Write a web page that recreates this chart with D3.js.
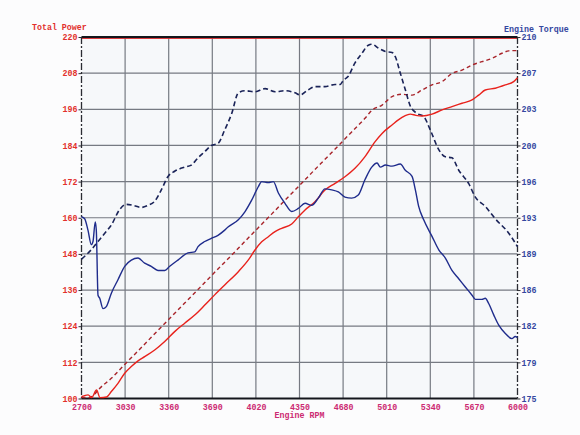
<!DOCTYPE html>
<html>
<head>
<meta charset="utf-8">
<script src="https://cdn.jsdelivr.net/npm/d3@7"></script>
<style>
  body { margin: 0; background: #fcfcfd; }
  text { font-family: "Liberation Mono", "DejaVu Sans Mono", monospace; font-weight: bold; }
</style>
</head>
<body>
<div id="chart"></div>
<script>
// power ticks (left), torque labels (right), rpm ticks (bottom)
const powerTicks = [100, 112, 124, 136, 148, 160, 172, 184, 196, 208, 220];
const torqueLabels = [175, 179, 182, 186, 189, 193, 196, 200, 203, 207, 210];
const rpmTicks = [2700, 3030, 3360, 3690, 4020, 4350, 4680, 5010, 5340, 5670, 6000];

// total power, solid red
const powerSolidRpm = [2700,2750,2777,2814,2840,2890,2926,2976,3027,3077,3128,3178,3254,3330,3405,3481,3557,3633,3708,3784,3887,3963,4013,4064,4114,4165,4215,4291,4341,4392,4467,4543,4619,4694,4770,4846,4921,4975,5050,5126,5189,5230,5277,5353,5429,5504,5580,5656,5706,5756,5832,5908,5971,6000];
const powerSolid = [100.6,101.2,100.3,102.8,100.3,100.5,102.3,105.0,108.4,110.6,112.5,113.9,116.1,118.9,122.2,125.0,127.7,131.0,134.4,137.7,142.1,146.0,149.3,152.0,153.7,155.4,156.5,157.9,160.3,162.6,165.3,169.2,171.4,173.6,176.4,180.3,185.2,188.0,190.8,193.3,194.4,194.0,193.8,194.4,195.8,196.9,198.0,199.1,200.7,202.4,203.0,204.1,205.2,206.5];

// total power, dashed dark red
const powerDashRpm = [2700,2760,2800,2825,2926,3027,3128,3228,3330,3430,3531,3633,3733,3837,3938,4038,4139,4240,4341,4442,4543,4644,4745,4846,4899,4975,5050,5126,5202,5277,5353,5429,5504,5580,5656,5731,5807,5883,5934,6000];
const powerDash = [100.4,100.3,101.5,102.8,106.7,111.3,115.8,120.3,124.9,129.4,133.9,138.5,143.0,147.6,152.2,156.7,161.2,165.8,170.3,174.9,179.4,183.9,188.5,193.0,195.7,197.4,200.2,201.0,200.7,202.4,204.1,205.2,207.9,209.0,210.7,211.8,212.9,214.6,215.4,215.5];

// engine torque, solid blue
const torqueSolidRpm = [2700,2724,2749,2774,2787,2804,2812,2825,2838,2863,2888,2926,2976,3027,3077,3128,3178,3228,3279,3330,3368,3430,3506,3557,3582,3633,3682,3733,3784,3809,3887,3938,3988,4038,4064,4114,4152,4190,4240,4291,4341,4392,4442,4492,4543,4594,4644,4694,4745,4795,4846,4897,4937,4962,5000,5050,5113,5151,5202,5227,5252,5290,5353,5404,5454,5504,5555,5605,5656,5681,5731,5756,5782,5820,5858,5908,5958,5983,6000];
const torqueSolid = [192.6,192.4,191.3,189.9,190.2,192.1,191.3,185.0,184.7,183.7,183.9,185.2,186.5,187.8,188.4,188.6,188.1,187.8,187.4,187.4,187.8,188.4,189.1,189.2,189.7,190.2,190.5,190.8,191.3,191.6,192.3,193.1,194.2,195.5,196.0,195.9,196.0,194.9,193.9,193.1,193.4,193.9,193.7,194.4,195.3,195.2,195.0,194.5,194.4,194.7,196.2,197.4,197.8,197.4,197.6,197.5,197.7,197.1,196.5,195.2,193.6,192.3,190.7,189.4,188.6,187.4,186.6,185.8,185.0,184.6,184.6,184.7,184.2,183.1,182.1,181.3,180.8,181.0,180.9];

// engine torque, dashed navy
const torqueDashRpm = [2700,2774,2825,2876,2926,2989,3039,3090,3153,3203,3254,3304,3355,3405,3481,3531,3582,3633,3683,3733,3784,3837,3887,3938,4013,4089,4165,4240,4316,4354,4417,4467,4543,4619,4657,4682,4719,4770,4821,4871,4899,4950,5000,5050,5075,5113,5151,5189,5239,5290,5340,5404,5454,5504,5555,5631,5681,5756,5832,5934,6000];
const torqueDash = [188.5,189.4,190.2,191.0,191.8,193.3,193.8,193.7,193.5,193.7,194.1,195.2,196.5,197.0,197.4,197.6,198.3,198.9,199.5,199.7,201.0,202.6,204.6,204.8,204.7,205.0,204.7,204.8,204.6,204.4,204.9,205.2,205.2,205.4,205.4,205.8,206.2,207.5,208.4,209.2,209.3,208.9,208.6,208.5,208.1,206.5,204.9,203.3,202.6,202.3,201.0,199.1,198.4,198.3,197.1,195.8,194.5,193.6,192.4,191.0,189.7];

const W = 580, H = 435;
const margin = { top: 37, right: 62.5, bottom: 36.5, left: 81.5 };
const width = W - margin.left - margin.right;
const height = H - margin.top - margin.bottom;

const svg = d3.select("#chart").append("svg")
    .attr("width", W)
    .attr("height", H);

const g = svg.append("g")
    .attr("transform", `translate(${margin.left},${margin.top})`);

const x = d3.scaleLinear().domain([2700, 6000]).range([0, width]);
const yP = d3.scaleLinear().domain([100, 220]).range([height, 0]);
const yT = d3.scaleLinear().domain([175, 210]).range([height, 0]);
const torqueTickVals = torqueLabels.map((d, i) => 175 + i * 3.5);

g.append("rect")
    .attr("width", width)
    .attr("height", height)
    .attr("fill", "#f6f8fa");

// grid
g.selectAll(".vgrid")
    .data(rpmTicks.slice(1, -1))
    .enter().append("line")
    .attr("x1", d => x(d)).attr("x2", d => x(d))
    .attr("y1", 0).attr("y2", height)
    .attr("stroke", "#767a82").attr("stroke-width", 1.2);

g.selectAll(".hgrid")
    .data(powerTicks.slice(1, -1))
    .enter().append("line")
    .attr("x1", 0).attr("x2", width)
    .attr("y1", d => yP(d)).attr("y2", d => yP(d))
    .attr("stroke", "#767a82").attr("stroke-width", 1.2);

// frame
g.append("line").attr("x1", 0).attr("x2", width).attr("y1", 0).attr("y2", 0)
    .attr("stroke", "#14161c").attr("stroke-width", 2);
g.append("line").attr("x1", 0).attr("x2", width).attr("y1", 1.5).attr("y2", 1.5)
    .attr("stroke", "#d8262a").attr("stroke-width", 0.9);
g.append("line").attr("x1", 0).attr("x2", width).attr("y1", height).attr("y2", height)
    .attr("stroke", "#14161c").attr("stroke-width", 2);
[0, width].forEach(xx => {
    g.append("line").attr("x1", xx).attr("x2", xx).attr("y1", 0).attr("y2", height)
        .attr("stroke", "#2a2c33").attr("stroke-width", 1.3)
        .attr("stroke-dasharray", "7,2,2,2");
});

// lines
function draw_line(rpms, vals, yScale, color, w, dash)
{
    const data = rpms.map((r, i) => [r, vals[i]]);
    const line = d3.line()
        .x(d => x(d[0]))
        .y(d => yScale(d[1]))
        .curve(d3.curveMonotoneX);
    g.append("path")
        .datum(data)
        .attr("d", line)
        .attr("fill", "none")
        .attr("stroke", color)
        .attr("stroke-width", w)
        .attr("stroke-dasharray", dash);
}

draw_line(powerDashRpm, powerDash, yP, "#a8242a", 1.4, "4,3");
draw_line(torqueDashRpm, torqueDash, yT, "#1a2358", 1.6, "5,3");
draw_line(powerSolidRpm, powerSolid, yP, "#e8221c", 1.4, null);
draw_line(torqueSolidRpm, torqueSolid, yT, "#1f2c8c", 1.4, null);

// axes
const axL = g.append("g")
    .call(d3.axisLeft(yP).tickValues(powerTicks).tickSize(3).tickPadding(1));
axL.select(".domain").remove();
axL.selectAll("line").attr("stroke", "#2a2c33");
axL.selectAll("text").attr("fill", "#e2302c").style("font-size", "8.3px");

const axR = g.append("g")
    .attr("transform", `translate(${width},0)`)
    .call(d3.axisRight(yT).tickValues(torqueTickVals).tickSize(3).tickPadding(1)
        .tickFormat((d, i) => torqueLabels[i]));
axR.select(".domain").remove();
axR.selectAll("line").attr("stroke", "#2a2c33");
axR.selectAll("text").attr("fill", "#3447a0").style("font-size", "8.3px");

const axB = g.append("g")
    .attr("transform", `translate(0,${height})`)
    .call(d3.axisBottom(x).tickValues(rpmTicks).tickSize(0).tickPadding(6)
        .tickFormat(d3.format("d")));
axB.select(".domain").remove();
axB.selectAll("text").attr("fill", "#cc2a72").style("font-size", "8.3px");

// titles
svg.append("text").attr("x", 32).attr("y", 30)
    .attr("fill", "#e2302c").style("font-size", "8.3px").text("Total Power");
svg.append("text").attr("x", 504).attr("y", 32)
    .attr("fill", "#3447a0").style("font-size", "8.3px").text("Engine Torque");
svg.append("text").attr("x", margin.left + width / 2).attr("y", 418)
    .attr("text-anchor", "middle")
    .attr("fill", "#cc2a72").style("font-size", "8.3px").text("Engine RPM");
</script>
</body>
</html>
